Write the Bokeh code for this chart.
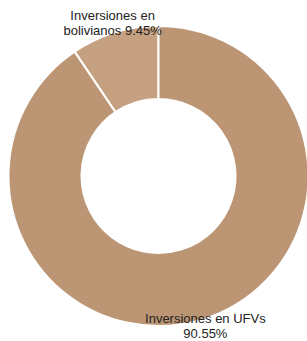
import math
from bokeh.plotting import figure
from bokeh.models import Range1d, ColumnDataSource
from bokeh.embed import file_html
from bokeh.resources import INLINE
from bokeh.core.properties import value

categories = ["Inversiones en bolivianos", "Inversiones en UFVs"]
shares = [9.45, 90.55]
colors = ["#C5A181", "#BC9674"]

W, H = 307, 341
p = figure(width=W, height=H, output_backend="svg", toolbar_location=None,
           x_range=Range1d(0, W), y_range=Range1d(0, H), min_border=0)
p.axis.visible = False
p.grid.visible = False
p.outline_line_color = None
p.background_fill_color = "white"

cx, cy = 158, 165.5
r_out, r_in = 150, 77

starts, ends, lx, ly, texts, xo, yo = [], [], [], [], [], [], []
a = math.pi / 2
for cat, s in zip(categories, shares):
    span = s / 100 * 2 * math.pi
    starts.append(a)
    ends.append(a + span)
    mid = a + span / 2
    lx.append(cx + r_out * math.cos(mid))
    ly.append(cy + r_out * math.sin(mid))
    if cat.endswith("bolivianos"):
        texts.append("Inversiones en\nbolivianos %.2f%%" % s)
        xo.append(-2)
        yo.append(-10)
    else:
        texts.append("Inversiones en UFVs\n%.2f%%" % s)
        xo.append(3)
        yo.append(7)
    a += span

src = ColumnDataSource(dict(start=starts, end=ends, color=colors, lx=lx, ly=ly,
                            text=texts, xo=xo, yo=yo))
p.annular_wedge(x=cx, y=cy, inner_radius=r_in, outer_radius=r_out,
                start_angle="start", end_angle="end", direction="anticlock",
                fill_color="color", line_color="white", line_width=2, source=src)
p.text(x="lx", y="ly", text="text", text_align="center", text_baseline="middle",
       anchor="center", x_offset="xo", y_offset="yo",
       text_font=value("Liberation Sans"), text_font_size="13px",
       text_color="#222222", text_line_height=1.0, source=src)

open("out.html", "w").write(file_html(p, INLINE))
